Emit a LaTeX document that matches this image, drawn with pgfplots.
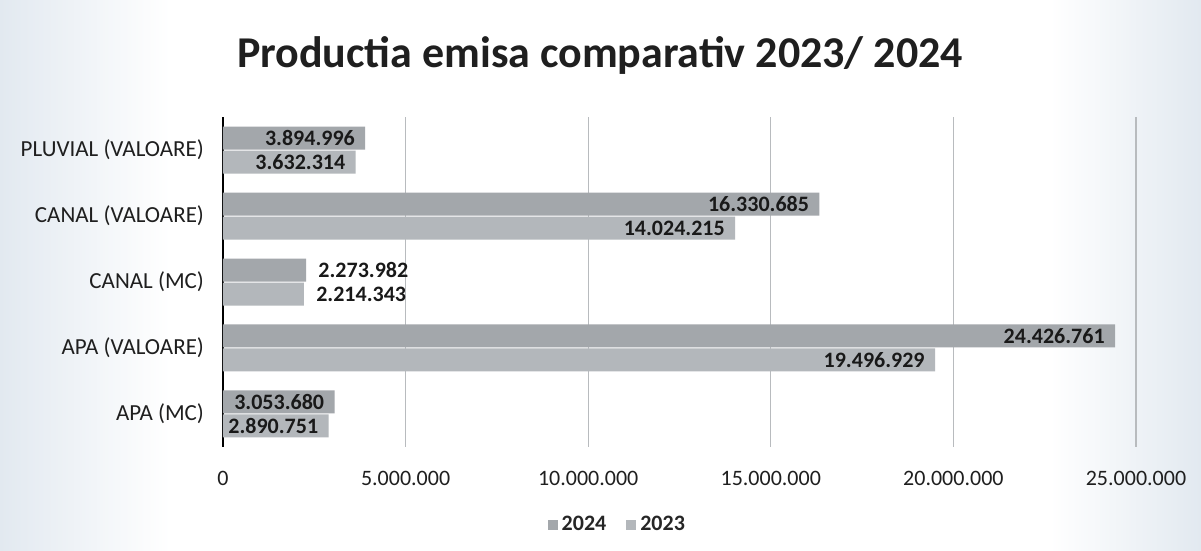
\documentclass[border=0pt]{standalone}
\usepackage{fontspec}
\setmainfont{Carlito}
\usepackage{pgfplots}
\pgfplotsset{compat=1.18}
\usepackage{pgfplotstable}

\definecolor{bar24}{HTML}{A3A7AB}
\definecolor{bar23}{HTML}{B3B7BB}
\definecolor{bgblue}{HTML}{E2E9F0}
\definecolor{gridc}{HTML}{B8BBBE}

% y: category index, v: value, in/out: label drawn inside / outside the bar end
\pgfplotstableread{
y v        in         out
0 3053680  3.053.680  {}
1 24426761 24.426.761 {}
2 2273982  {}         2.273.982
3 16330685 16.330.685 {}
4 3894996  3.894.996  {}
}\tabB

\pgfplotstableread{
y v        in         out
0 2890751  2.890.751  {}
1 19496929 19.496.929 {}
2 2214343  {}         2.214.343
3 14024215 14.024.215 {}
4 3632314  3.632.314  {}
}\tabA

\pgfplotsset{
  lblin/.style={point meta=explicit symbolic, nodes near coords,
    nodes near coords style={anchor=east, xshift=-5pt, inner sep=0pt,
        font=\fontsize{11}{13}\bfseries\selectfont, text=black!90}},
  lblout/.style={point meta=explicit symbolic, nodes near coords,
    fill=none, draw=none, forget plot,
    nodes near coords style={anchor=west, xshift=6pt, inner sep=0pt,
        font=\fontsize{11}{13}\bfseries\selectfont, text=black!90}},
}

\begin{document}
\begin{tikzpicture}
\fill[white] (0pt,0pt) rectangle (600.5pt,275.5pt);
\shade[left color=bgblue, right color=white] (0pt,0pt) rectangle (85pt,275.5pt);
\shade[left color=white, right color=bgblue] (525pt,0pt) rectangle (600.5pt,275.5pt);
\begin{axis}[
    at={(111.5pt,52pt)}, anchor=south west,
    scale only axis, width=456.5pt, height=165pt,
    xbar, bar width=11.5pt,
    xmin=0, xmax=25000000, ymin=-0.5, ymax=4.5,
    scaled x ticks=false,
    axis lines*=left,
    x axis line style={draw=none},
    y axis line style={black, line width=1pt},
    major tick length=0pt,
    xmajorgrids, grid style={gridc, line width=0.6pt},
    xtick={0,5000000,10000000,15000000,20000000,25000000},
    xticklabels={0,5.000.000,10.000.000,15.000.000,20.000.000,25.000.000},
    ytick={0,1,2,3,4},
    yticklabels={APA (MC),APA (VALOARE),CANAL (MC),CANAL (VALOARE),PLUVIAL (VALOARE)},
    xticklabel style={font=\fontsize{11}{13}\selectfont, text=black!88, yshift=-8.5pt},
    yticklabel style={font=\fontsize{11.5}{13}\selectfont, text=black!88, xshift=-6pt},
    title={Productia emisa comparativ 2023/ 2024},
    title style={at={(0.413,1.15)}, anchor=center, font=\fontsize{22}{26}\bfseries\selectfont, text=black!88},
    legend style={at={(0.433,-0.236)}, anchor=center, draw=none, fill=none,
        legend columns=2, font=\fontsize{11}{13}\bfseries\selectfont, text=black!85,
        /tikz/every even column/.append style={column sep=8pt}},
    legend image code/.code={\fill[#1] (0pt,-2.5pt) rectangle (5pt,2.5pt);},
]
\addplot[fill=bar24, draw=none, bar shift=6pt, lblin] table[x=v, y=y, meta=in]{\tabB};
\addlegendentry{2024}
\addplot[fill=bar23, draw=none, bar shift=-6pt, lblin] table[x=v, y=y, meta=in]{\tabA};
\addlegendentry{2023}
\addplot[bar shift=6pt, lblout] table[x=v, y=y, meta=out]{\tabB};
\addplot[bar shift=-6pt, lblout] table[x=v, y=y, meta=out]{\tabA};
\end{axis}
\end{tikzpicture}
\end{document}
